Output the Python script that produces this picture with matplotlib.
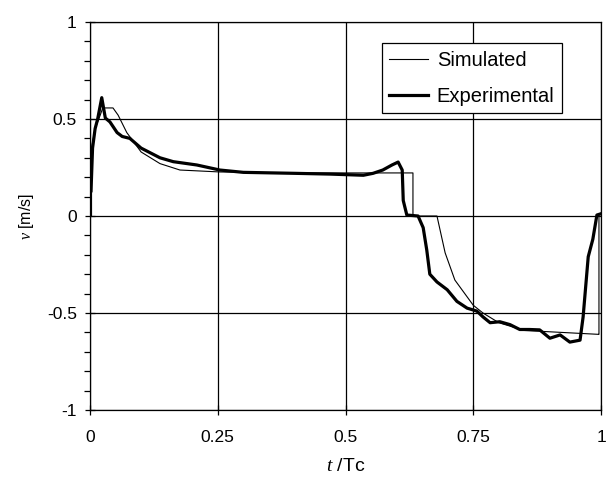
import matplotlib
matplotlib.use("Agg")
import matplotlib.pyplot as plt
from matplotlib.ticker import MultipleLocator, FixedLocator

plt.rcParams['font.family'] = ['Liberation Sans', 'DejaVu Sans']
plt.rcParams['mathtext.fontset'] = 'custom'
plt.rcParams['mathtext.rm'] = 'Liberation Sans'
plt.rcParams['mathtext.it'] = 'Liberation Serif:italic'

# Simulated velocity
sim_t = [0.0, 0.003, 0.003, 0.010, 0.020, 0.025, 0.045, 0.055, 0.072, 0.100,
         0.137, 0.176, 0.254, 0.400, 0.632, 0.632, 0.679, 0.695, 0.714,
         0.750, 0.769, 0.800, 0.850, 0.995, 0.996, 0.996]
sim_v = [0.0, 0.0, 0.35, 0.45, 0.52, 0.557, 0.557, 0.52, 0.43, 0.33,
         0.27, 0.237, 0.227, 0.222, 0.222, 0.0, 0.0, -0.19, -0.33,
         -0.46, -0.50, -0.55, -0.59, -0.61, -0.61, 0.0]

# Experimental velocity
exp_t = [0.002, 0.005, 0.010, 0.015, 0.023, 0.030, 0.039, 0.053, 0.063, 0.078,
         0.100, 0.137, 0.163, 0.209, 0.254, 0.300, 0.400, 0.470, 0.535, 0.554,
         0.573, 0.591, 0.603, 0.611, 0.613, 0.620, 0.642, 0.652, 0.659, 0.665,
         0.679, 0.699, 0.718, 0.738, 0.757, 0.769, 0.783, 0.802, 0.822, 0.841,
         0.860, 0.880, 0.900, 0.920, 0.939, 0.959, 0.965, 0.975, 0.984, 0.992,
         0.998]
exp_v = [0.13, 0.35, 0.45, 0.50, 0.61, 0.505, 0.485, 0.43, 0.41, 0.40,
         0.35, 0.30, 0.28, 0.263, 0.237, 0.225, 0.22, 0.216, 0.21, 0.22,
         0.237, 0.263, 0.278, 0.237, 0.08, 0.005, 0.0, -0.06, -0.175, -0.30,
         -0.34, -0.38, -0.44, -0.475, -0.49, -0.52, -0.55, -0.545, -0.56, -0.585,
         -0.585, -0.587, -0.63, -0.613, -0.65, -0.64, -0.52, -0.21, -0.12, 0.005,
         0.01]

fig = plt.figure(figsize=(6.1, 4.8), dpi=100)
ax = fig.add_axes([90/610, 1-410/480, (601-90)/610, (410-22)/480])

ax.plot(sim_t, sim_v, color='black', lw=0.8, label='Simulated')
ax.plot(exp_t, exp_v, color='black', lw=2.3, label='Experimental')

ax.set_xlim(0, 1)
ax.set_ylim(-1, 1)
ax.xaxis.set_major_locator(FixedLocator([0, 0.25, 0.5, 0.75, 1]))
ax.set_xticklabels(['0', '0.25', '0.5', '0.75', '1'])
ax.yaxis.set_major_locator(FixedLocator([-1, -0.5, 0, 0.5, 1]))
ax.set_yticklabels(['-1', '-0.5', '0', '0.5', '1'])
ax.yaxis.set_minor_locator(MultipleLocator(0.1))
ax.tick_params(axis='both', which='major', direction='inout', length=7, width=0.9,
               labelsize=12.5, color='black')
ax.tick_params(axis='x', which='major', pad=11)
ax.tick_params(axis='y', which='major', pad=6)
ax.tick_params(axis='y', which='minor', direction='out', length=4, width=0.9)
ax.grid(True, which='major', color='black', lw=0.9)
for s in ax.spines.values():
    s.set_linewidth(0.9)
    s.set_color('black')

ax.set_xlabel(r'$\it{t}$ /Tc', fontsize=14, labelpad=9)
ax.set_ylabel(r'$\it{v}$ [m/s]', fontsize=11.5, labelpad=8)

leg = ax.legend(loc='upper right', bbox_to_anchor=(0.924, 0.946), fontsize=14.5,
                frameon=True, fancybox=False, edgecolor='black', framealpha=1,
                handlelength=1.9, borderpad=0.38, labelspacing=0.85,
                handletextpad=0.45, borderaxespad=0)
leg.get_frame().set_linewidth(0.9)

fig.savefig('out.png', dpi=100)
